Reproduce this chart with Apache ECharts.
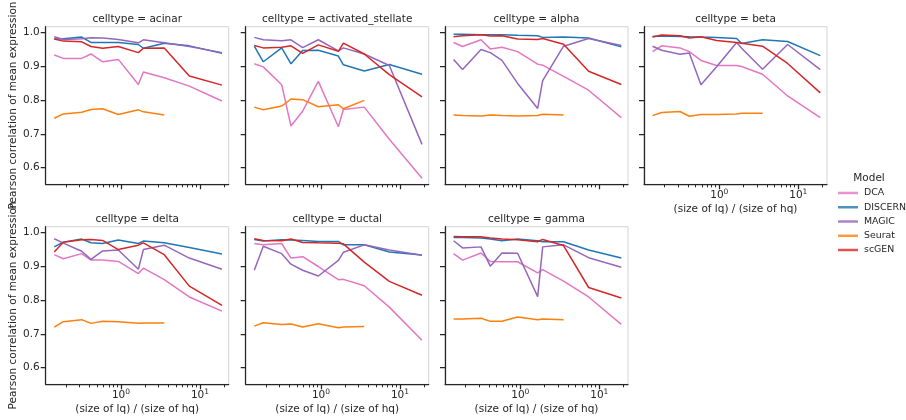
<!DOCTYPE html>
<html><head><meta charset="utf-8">
<script src="https://cdn.jsdelivr.net/npm/echarts@6/dist/echarts.min.js"></script>
<style>html,body{margin:0;padding:0;background:#fff}#c{width:906px;height:420px}</style>
</head><body><div id="c"></div>
<script>
const celltypes = ['acinar','activated_stellate','alpha','beta','delta','ductal','gamma'];
const models = ['DCA','DISCERN','MAGIC','Seurat','scGEN'];
const sizeRatio = [0.143,0.186,0.318,0.417,0.586,0.925,1.66,1.92,3.53,7.33,19.0];
const xMajorTicks = [1, 10];
const xMinorTicks = [0.2,0.3,0.4,0.5,0.6,0.7,0.8,0.9,2,3,4,5,6,7,8,9,20];
const yTicks = [0.6,0.7,0.8,0.9,1.0];

const dcaValues = [
  [0.933,0.923,0.923,0.936,0.913,0.920,0.846,0.883,0.866,0.841,0.797],
  [0.907,0.898,0.845,0.723,0.767,0.855,0.721,0.772,0.779,0.684,0.569],
  [0.970,0.958,0.978,0.951,0.956,0.943,0.906,0.903,0.870,0.829,0.748],
  [0.943,0.960,0.954,0.943,0.917,0.902,0.902,0.899,0.876,0.812,0.748],
  [0.934,0.922,0.937,0.918,0.918,0.914,0.878,0.894,0.860,0.809,0.767],
  [0.967,0.963,0.967,0.924,0.928,0.899,0.860,0.861,0.842,0.779,0.681],
  [0.937,0.918,0.939,0.914,0.913,0.913,0.880,0.890,0.856,0.809,0.728]
];
const discernValues = [
  [0.980,0.981,0.986,0.970,0.970,0.970,0.964,0.953,0.968,0.960,0.938],
  [0.959,0.913,0.954,0.907,0.946,0.947,0.930,0.904,0.886,0.905,0.876],
  [0.994,0.994,0.993,0.993,0.993,0.991,0.990,0.985,0.986,0.983,0.957],
  [0.988,0.989,0.988,0.987,0.986,0.985,0.982,0.967,0.978,0.973,0.931],
  [0.957,0.971,0.980,0.969,0.967,0.977,0.967,0.974,0.969,0.955,0.936],
  [0.979,0.974,0.978,0.977,0.976,0.973,0.973,0.963,0.963,0.942,0.933],
  [0.985,0.985,0.983,0.980,0.975,0.980,0.975,0.972,0.972,0.948,0.924]
];
const magicValues = [
  [0.987,0.979,0.981,0.984,0.983,0.979,0.969,0.978,0.969,0.958,0.940],
  [0.985,0.978,0.975,0.978,0.955,0.978,0.945,0.954,0.936,0.902,0.669],
  [0.920,0.890,0.949,0.940,0.917,0.849,0.775,0.857,0.959,0.982,0.961],
  [0.959,0.947,0.935,0.939,0.845,0.898,0.970,0.953,0.891,0.964,0.890],
  [0.981,0.968,0.944,0.920,0.945,0.948,0.891,0.949,0.962,0.924,0.891],
  [0.888,0.959,0.937,0.906,0.888,0.871,0.917,0.941,0.963,0.948,0.932],
  [0.975,0.954,0.957,0.900,0.939,0.938,0.810,0.957,0.963,0.925,0.897]
];
const seuratValues = [
  [0.746,0.759,0.764,0.772,0.774,0.757,0.771,0.765,0.756],
  [0.779,0.771,0.782,0.803,0.801,0.780,0.786,0.774,0.799],
  [0.756,0.754,0.753,0.756,0.754,0.753,0.754,0.758,0.756],
  [0.754,0.763,0.766,0.752,0.757,0.757,0.759,0.761,0.761],
  [0.720,0.736,0.742,0.731,0.737,0.736,0.731,0.732,0.732],
  [0.723,0.733,0.728,0.729,0.720,0.730,0.718,0.720,0.722],
  [0.744,0.744,0.746,0.737,0.737,0.750,0.742,0.744,0.742]
];
const scgenValues = [
  [0.980,0.974,0.972,0.958,0.953,0.958,0.940,0.953,0.954,0.871,0.844],
  [0.961,0.954,0.956,0.960,0.938,0.963,0.944,0.968,0.936,0.875,0.809],
  [0.987,0.990,0.993,0.989,0.990,0.980,0.979,0.982,0.965,0.885,0.846],
  [0.986,0.992,0.990,0.983,0.987,0.976,0.970,0.968,0.959,0.908,0.821],
  [0.942,0.971,0.978,0.979,0.976,0.949,0.962,0.969,0.934,0.841,0.784],
  [0.981,0.976,0.975,0.980,0.970,0.969,0.968,0.966,0.912,0.855,0.814],
  [0.988,0.987,0.987,0.983,0.980,0.978,0.972,0.979,0.961,0.837,0.806]
];

const modelValues = [dcaValues, discernValues, magicValues, seuratValues, scgenValues];
const modelColors = ['#e377c2','#1f77b4','#9467bd','#ff7f0e','#d62728'];

const FONT = 'DejaVu Sans';
const TXT = '#262626';
const FS = 10.5;
const panelLeft = [45.7, 245.7, 445, 644];
const panelTop = [26.7, 226.7];
const PW = 183, PH = 157.6;
const XMIN = 0.1114, XMAX = 23.1, YMIN = 0.551, YMAX = 1.0166;

const grids = [], xAxes = [], yAxes = [], series = [], graphics = [];
celltypes.forEach((ct, p) => {
  const row = p < 4 ? 0 : 1, col = p % 4;
  const showX = row === 1 || p === 3;
  const showY = col === 0;
  const left = panelLeft[col], top = panelTop[row];
  grids.push({left: left, top: top, width: PW, height: PH, show: true,
    borderColor: '#d4d4d4', borderWidth: 1, backgroundColor: 'transparent',
    containLabel: false, outerBoundsMode: 'none'});
  xAxes.push({type: 'log', logBase: 10, gridIndex: p, position: 'bottom', min: XMIN, max: XMAX,
    axisLine: {show: true, onZero: false, lineStyle: {color: TXT, width: 1.25}},
    axisTick: {show: true, customValues: xMajorTicks, length: 5, lineStyle: {color: TXT, width: 1.25}},
    axisLabel: {show: showX, customValues: xMajorTicks, margin: 4, color: TXT,
      formatter: v => '{b|10}{s|' + Math.round(Math.log10(v)) + '}',
      rich: {b: {fontSize: FS, fontFamily: FONT, color: TXT, lineHeight: 14},
             s: {fontSize: 7.5, fontFamily: FONT, color: TXT, lineHeight: 8, verticalAlign: 'top'}}},
    splitLine: {show: false}, minorTick: {show: false},
    name: showX ? '(size of lq) / (size of hq)' : '', nameLocation: 'middle', nameGap: 19,
    nameTextStyle: {fontSize: FS, fontFamily: FONT, color: TXT}});
  xAxes.push({type: 'log', logBase: 10, gridIndex: p, position: 'bottom', min: XMIN, max: XMAX,
    axisLine: {show: false, onZero: false},
    axisTick: {show: true, customValues: xMinorTicks, length: 3, lineStyle: {color: TXT, width: 1}},
    axisLabel: {show: false}, splitLine: {show: false}});
  yAxes.push({type: 'value', gridIndex: p, position: 'left', min: YMIN, max: YMAX,
    axisLine: {show: true, onZero: false, lineStyle: {color: TXT, width: 1.25}},
    axisTick: {show: true, customValues: yTicks, length: 5, lineStyle: {color: TXT, width: 1.25}},
    axisLabel: {show: showY, customValues: yTicks, margin: 6, color: TXT, fontSize: FS, fontFamily: FONT,
      formatter: v => v.toFixed(1)},
    splitLine: {show: false},
    name: showY ? 'Pearson correlation of mean expression' : '', nameLocation: 'middle', nameGap: 27,
    nameTextStyle: {fontSize: FS, fontFamily: FONT, color: TXT}});
  graphics.push({type: 'text', x: left + PW / 2, y: top - 7,
    style: {text: 'celltype = ' + ct, fontSize: FS, fontFamily: FONT, fill: TXT,
      textAlign: 'center', textVerticalAlign: 'middle'}});
  models.forEach((m, mi) => {
    const vals = modelValues[mi][p];
    series.push({type: 'line', name: m, xAxisIndex: 2 * p, yAxisIndex: p,
      data: vals.map((v, i) => [sizeRatio[i], v]),
      symbol: 'none', showSymbol: false, silent: true, animation: false,
      color: modelColors[mi],
      lineStyle: {width: 1.5, color: modelColors[mi]}, itemStyle: {color: modelColors[mi]},
      z: 2 + mi});
  });
});

graphics.push({type: 'text', x: 869, y: 178,
  style: {text: 'Model', fontSize: FS, fontFamily: FONT, fill: TXT, textAlign: 'center', textVerticalAlign: 'middle'}});

const chart = echarts.init(document.getElementById('c'), null, {renderer: 'canvas', width: 906, height: 420});
chart.setOption({
  animation: false,
  backgroundColor: '#ffffff',
  grid: grids, xAxis: xAxes, yAxis: yAxes, series: series,
  graphic: graphics,
  legend: {data: models, orient: 'vertical', left: 833, top: 182, icon: 'rect',
    itemWidth: 20, itemHeight: 2.5, itemGap: 2.25, selectedMode: false,
    itemStyle: {opacity: 0.8},
    textStyle: {fontSize: 9.4, fontFamily: FONT, color: TXT, lineHeight: 12, padding: [0, 0, 0, 1]}}
});
</script></body></html>
